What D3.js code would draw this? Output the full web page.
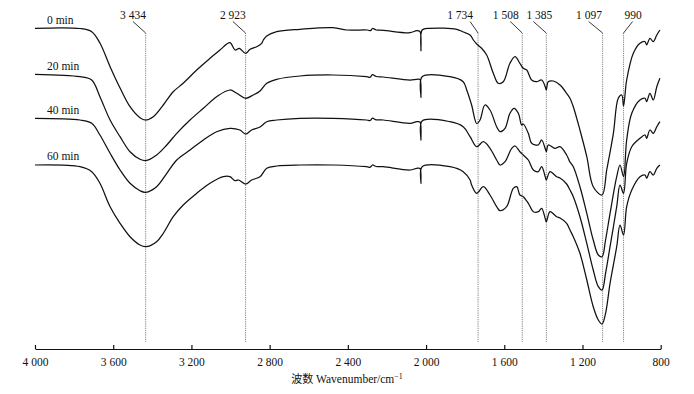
<!DOCTYPE html>
<html>
<head>
<meta charset="utf-8">
<script src="https://cdn.jsdelivr.net/npm/d3@7"></script>
<style>
  body { margin: 0; background: #fff; }
  svg { display: block; }
  text { font-family: "Liberation Serif", "Times New Roman", serif; font-size: 11.5px; fill: #111; }
</style>
</head>
<body>
<div id="chart"></div>
<script>
// FTIR spectra, [wavenumber cm-1, transmittance a.u.]
const min0 = [[4000,320.7],[3770,320.5],[3710,317.3],[3668,306],[3616,282.3],[3565,261],[3514,242.3],[3463,231.3],[3434,229],[3395,232.3],[3344,244],[3293,257.3],[3242,265.7],[3173,279],[3105,290.7],[3054,299],[3003,306.3],[2977,299],[2955,300.7],[2923,295.7],[2900,299.7],[2866,302.3],[2841,305.7],[2832,309],[2815,313],[2764,317.3],[2645,319.7],[2476,321.3],[2406,319],[2300,319],[2284,318.3],[2274,320.5],[2255,319],[2219,318.7],[2082,316.3],[2048,318.3],[2031,317.3],[2026,298.3],[2020,319],[1980,320.7],[1843,319.7],[1810,317],[1775,314],[1758,309],[1741,305],[1716,300.7],[1690,294],[1656,275.7],[1631,265.7],[1605,267.3],[1571,285.7],[1545,292.3],[1520,285.7],[1503,280.7],[1485,279],[1460,269],[1434,267.3],[1409,269],[1390,262],[1385,259],[1375,267.3],[1349,268],[1315,264],[1281,255.7],[1264,250.7],[1247,242.3],[1213,219],[1178,192.3],[1145,162.3],[1100,154],[1076,179],[1042,215.7],[1017,250.7],[999,254],[990,243],[974,269],[940,295.7],[906,305.7],[880,307.3],[872,304],[855,310.7],[838,307.3],[820,314],[804,319]];

const min20 = [[4000,274.7],[3770,272.3],[3710,269],[3668,252.3],[3616,229],[3565,212.3],[3514,197.3],[3463,189.7],[3434,188.3],[3378,194],[3326,204],[3275,215.7],[3207,229],[3139,240.7],[3071,252.3],[3003,259],[2968,255.7],[2923,250.7],[2884,254],[2849,258],[2815,265.7],[2764,269.7],[2645,273],[2476,274],[2304,272.3],[2286,271.8],[2274,274.3],[2255,272.5],[2219,272],[2082,269],[2048,269.7],[2031,269.5],[2026,251.7],[2020,272.3],[1878,272.3],[1810,267.3],[1792,259],[1767,244],[1741,225.5],[1724,229],[1699,244],[1673,239],[1639,222.3],[1622,217.3],[1596,220.7],[1571,235.7],[1550,240.7],[1528,235.7],[1511,224],[1503,225],[1477,215.7],[1460,205.7],[1426,204],[1409,209],[1390,200],[1385,197.3],[1375,204],[1341,200.7],[1315,202.3],[1281,194],[1264,187],[1247,182.3],[1213,162.3],[1178,135.7],[1145,109],[1119,94],[1100,92.3],[1082,109],[1059,135.7],[1025,172.3],[1008,184],[990,172.3],[974,209],[948,235.7],[906,249],[880,250.7],[872,247.3],[855,255.7],[838,249],[820,262.3],[804,270.7]];

const min40 = [[4000,230.7],[3770,229],[3710,225.7],[3668,214],[3616,195.7],[3565,179],[3514,165.7],[3463,158.3],[3434,156.7],[3378,162.3],[3326,175.7],[3275,189],[3207,199],[3139,209],[3071,217.3],[3003,220.7],[2952,219],[2923,215],[2892,219],[2849,222],[2815,227.3],[2764,229],[2645,230.7],[2476,230.7],[2304,229],[2286,228.5],[2274,230.8],[2255,229.2],[2219,229],[2082,225.7],[2048,227.3],[2031,227],[2026,209],[2020,228],[1878,227.3],[1810,222.3],[1775,212.3],[1741,202.3],[1707,207.3],[1673,200.7],[1639,189],[1622,184],[1596,187.3],[1562,200.7],[1545,203],[1520,197.3],[1503,194],[1477,189],[1451,179],[1426,177.3],[1409,182.3],[1390,172],[1385,169],[1366,177.3],[1332,172.3],[1315,171],[1281,165],[1264,159],[1247,152.3],[1213,132.3],[1178,105.7],[1145,79],[1119,62.3],[1100,59],[1082,75.7],[1059,102.3],[1025,142.3],[1008,164],[990,155.7],[974,185.7],[948,202.3],[906,210.7],[880,214],[872,210.7],[855,219],[838,215.7],[820,222.3],[804,227.3]];

const min60 = [[4000,184],[3770,182.3],[3710,177.3],[3668,165.7],[3616,142.3],[3565,125.7],[3514,112.3],[3463,104],[3434,102.3],[3378,107.3],[3344,115.7],[3293,132.3],[3242,144],[3173,155.7],[3105,165.7],[3037,172.3],[3003,172.3],[2977,168.3],[2960,169],[2923,165],[2892,169],[2849,172.3],[2815,180.7],[2764,183],[2645,184],[2476,184],[2304,182.3],[2286,181.8],[2274,184],[2255,182.5],[2219,182.3],[2082,179],[2048,180.7],[2031,180.5],[2026,165.7],[2020,182.3],[1878,182.3],[1810,177.3],[1775,169],[1767,164],[1741,155.7],[1707,162.3],[1673,154],[1639,142.3],[1622,138.3],[1588,142.3],[1554,160.7],[1536,162.3],[1520,154],[1503,152.3],[1477,145.7],[1451,137.3],[1426,137.3],[1409,140.7],[1390,130],[1385,127.3],[1366,137.3],[1332,132.3],[1315,131],[1281,125.7],[1264,119],[1247,112.3],[1213,95.7],[1178,69],[1145,42.3],[1119,29],[1100,25],[1082,35.7],[1059,65.7],[1025,102.3],[1008,124],[990,114],[974,142.3],[948,159],[906,172.3],[880,174],[872,170.7],[855,177.3],[838,174],[820,180.7],[804,184]];

const seriesNames = ["0 min", "20 min", "40 min", "60 min"];
const seriesData = [min0, min20, min40, min60];

const peaks = [3434, 2923, 1734, 1508, 1385, 1097, 990];
const peakLabels = ["3 434", "2 923", "1 734", "1 508", "1 385", "1 097", "990"];
// label / leader offsets in px from the marker line (layout only)
const labelShift = [-12.7, -12.7, -18, -16.5, -7, -13.6, 9.5];
const leaderShift = [-12.7, -12.7, -8, -12, -13, -14, 9];

const xTicks = [4000, 3600, 3200, 2800, 2400, 2000, 1600, 1200, 800];

const W = 694, H = 394;
const axisY = 349;

const svg = d3.select("#chart").append("svg")
  .attr("width", W)
  .attr("height", H);

const x = d3.scaleLinear().domain([4000, 800]).range([35, 660.7]);
const y = d3.scaleLinear().domain([0, 330]).range([axisY, 19]);

// marker lines for band positions
const marks = svg.append("g");
peaks.forEach((p, i) => {
  let px = x(p);
  marks.append("line")
    .attr("x1", px).attr("x2", px)
    .attr("y1", 33).attr("y2", axisY - 7)
    .attr("stroke", "#777")
    .attr("stroke-width", 0.9)
    .attr("stroke-dasharray", "1.2,1");
  marks.append("line")
    .attr("x1", px + leaderShift[i]).attr("y1", 21.5)
    .attr("x2", px).attr("y2", 33)
    .attr("stroke", "#222")
    .attr("stroke-width", 0.9);
  marks.append("text")
    .attr("x", px + labelShift[i])
    .attr("y", 19)
    .attr("text-anchor", "middle")
    .text(peakLabels[i]);
});

// spectra
const line = d3.line()
  .x(d => x(d[0]))
  .y(d => y(d[1]))
  .curve(d3.curveCatmullRom.alpha(0.5));

seriesData.forEach((s, i) => {
  svg.append("path")
    .datum(s)
    .attr("fill", "none")
    .attr("stroke", "#111")
    .attr("stroke-width", 1.25)
    .attr("stroke-linejoin", "round")
    .attr("d", line);
  svg.append("text")
    .attr("x", 47)
    .attr("y", y(s[0][1]) - 4.8)
    .text(seriesNames[i]);
});

// x axis, ticks pointing up
const fmt = d3.formatLocale({decimal: ".", thousands: " ", grouping: [3], currency: ["", ""]}).format(",d");
const xAxis = svg.append("g")
  .attr("transform", "translate(0," + axisY + ")")
  .call(d3.axisBottom(x)
    .tickValues(xTicks)
    .tickFormat(fmt)
    .tickSizeInner(-4)
    .tickSizeOuter(0)
    .tickPadding(9));
xAxis.select(".domain").attr("stroke", "#111").attr("stroke-width", 1.2);
xAxis.selectAll(".tick line").attr("stroke", "#111").attr("stroke-width", 1.2);
xAxis.selectAll(".tick text")
  .attr("fill", "#111")
  .style("font-family", '"Liberation Serif", serif')
  .style("font-size", "11.5px");

// axis title
const title = svg.append("text")
  .attr("x", 347)
  .attr("y", 383)
  .attr("text-anchor", "middle");
title.append("tspan")
  .style("font-family", '"Noto Sans CJK SC", sans-serif')
  .style("font-size", "11px")
  .text("波数");
title.append("tspan").text(" Wavenumber/cm");
title.append("tspan")
  .attr("dy", -4)
  .style("font-size", "8px")
  .text("−1");
</script>
</body>
</html>
